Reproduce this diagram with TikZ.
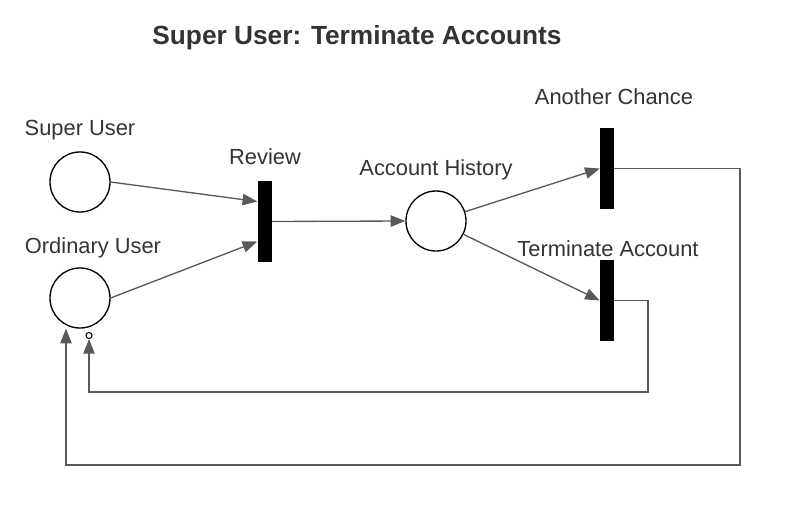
\documentclass[tikz,border=0pt]{standalone}
\usepackage{fontspec}
\setmainfont{Liberation Sans}
\usetikzlibrary{arrows.meta}
\definecolor{ink}{HTML}{333333}
\definecolor{wire}{HTML}{595959}

\begin{document}
\begin{tikzpicture}[x=0.75pt,y=-0.75pt,
  place/.style={draw=black,line width=1pt,circle,minimum size=45pt,inner sep=0pt},
  trans/.style={fill=black,draw=none,minimum width=10.5pt,minimum height=60.75pt,inner sep=0pt},
  lbl/.style={text=ink,font=\fontsize{16.4}{19}\selectfont,inner sep=0pt},
  flow/.style={draw=wire,line width=1pt,-{Triangle[length=11pt,width=8.5pt]}},
  wire/.style={draw=wire,line width=1pt}]
  \useasboundingbox (0,0) rectangle (793,520);
  \node[text=ink,font=\fontsize{19.7}{23}\selectfont\bfseries,inner sep=0pt] (title) at (357,38) {Super User: Terminate Accounts};
  \node[place] (suser) at (80,182) {};  \node[lbl] (lsuser) at (80,130) {Super User};
  \node[place] (ouser) at (80,298) {};  \node[lbl] (louser) at (93,248) {Ordinary User};
  \node[trans] (review) at (264.5,221.5) {};  \node[lbl] (lreview) at (265,157) {Review};
  \node[place] (history) at (436,221) {};  \node[lbl] (lhistory) at (436,170) {Account History};
  \node[trans] (chance) at (607,168.5) {};  \node[lbl] (lchance) at (614,97) {Another Chance};
  \node[trans] (terminate) at (607,300.5) {};  \node[lbl] (lterminate) at (608,249) {Terminate Account};
  \node[draw=black,fill=white,line width=0.8pt,circle,minimum size=4.5pt,inner sep=0pt] (dot) at (89,335.5) {};
  \draw[flow] (suser.east) -- ([yshift=15pt]review.west);
  \draw[flow] (ouser.east) -- ([yshift=-15pt]review.west);
  \draw[flow] (review.east) -- (history.west);
  \draw[flow] (history) -- (chance.west);
  \draw[flow] (history) -- (terminate.west);
  \draw[flow] (chance.east) -| (740,465) -| ([xshift=-10.5pt]ouser.south);
  \draw[flow] (terminate.east) -| (648,392) -| (dot.south);
\end{tikzpicture}
\end{document}
